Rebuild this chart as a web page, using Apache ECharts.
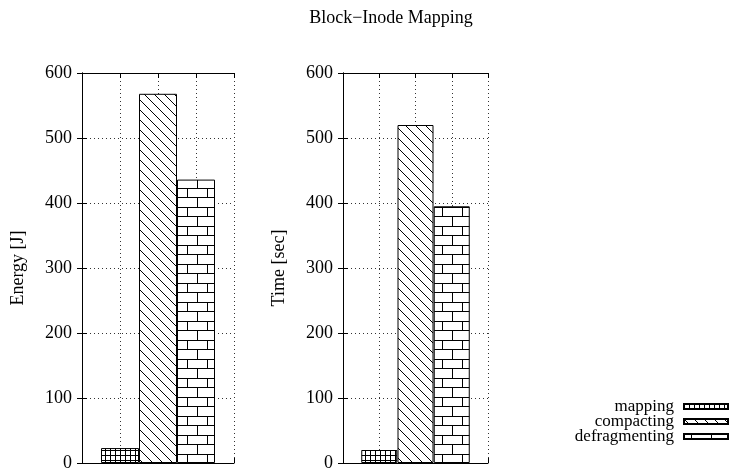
<!DOCTYPE html>
<html>
<head>
<meta charset="utf-8">
<script src="https://cdn.jsdelivr.net/npm/echarts@6/dist/echarts.min.js"></script>
<style>
html,body{margin:0;padding:0;background:#fff;}
#chart{width:731px;height:473px;}
</style>
</head>
<body>
<div id="chart"></div>
<script>
// ---- data ----
const title = 'Block\u2212Inode Mapping';
const categories = ['mapping', 'compacting', 'defragmenting'];
const positions = [1, 2, 3];
const energy = [23, 568, 436];
const time = [20, 520, 395];
const yTicks = [0, 100, 200, 300, 400, 500, 600];
const panelNames = ['Energy [J]', 'Time [sec]'];

// ---- patterns ----
function makeCanvas(w, h) {
  const c = document.createElement('canvas');
  c.width = w; c.height = h;
  const ctx = c.getContext('2d');
  ctx.fillStyle = '#fff';
  ctx.fillRect(0, 0, w, h);
  ctx.strokeStyle = '#000';
  ctx.lineWidth = 1;
  return [c, ctx];
}
function gridPattern() {
  const [c, ctx] = makeCanvas(5, 5);
  ctx.beginPath();
  ctx.moveTo(0.5, 0); ctx.lineTo(0.5, 5);
  ctx.moveTo(0, 0.5); ctx.lineTo(5, 0.5);
  ctx.stroke();
  return { image: c, repeat: 'repeat' };
}
function diagPattern() {
  const [c, ctx] = makeCanvas(10, 10);
  ctx.beginPath();
  ctx.moveTo(-1, -1); ctx.lineTo(11, 11);
  ctx.moveTo(-1, 9); ctx.lineTo(1, 11);
  ctx.moveTo(9, -1); ctx.lineTo(11, 1);
  ctx.stroke();
  return { image: c, repeat: 'repeat' };
}
function brickPattern(xa, xb) {
  const [c, ctx] = makeCanvas(20, 19);
  ctx.beginPath();
  ctx.moveTo(0, 7.5); ctx.lineTo(20, 7.5);
  ctx.moveTo(0, 17.5); ctx.lineTo(20, 17.5);
  ctx.moveTo(xa + 0.5, 7.5); ctx.lineTo(xa + 0.5, 17.5);
  ctx.moveTo(xb + 0.5, 17.5); ctx.lineTo(xb + 0.5, 19);
  ctx.moveTo(xb + 0.5, 0); ctx.lineTo(xb + 0.5, 7.5);
  ctx.stroke();
  return { image: c, repeat: 'repeat' };
}
const fills = [
  [gridPattern(), diagPattern(), brickPattern(17, 7)],
  [gridPattern(), diagPattern(), brickPattern(12, 2)]
];

const FONT = 'Liberation Serif';
const FS = 18;
const grids = [
  { left: 82, top: 73, width: 152, height: 390 },
  { left: 343, top: 73, width: 145, height: 390 }
];
const barWidths = [38, 36];
const panelData = [energy, time];

const dotted = { color: '#333', width: 1, type: [1, 3] };
const xAxes = [], yAxes = [], series = [];
grids.forEach((g, i) => {
  xAxes.push({
    type: 'value', gridIndex: i, min: 0, max: 4, interval: 1, position: 'bottom',
    axisLabel: { show: false },
    axisLine: { show: true, onZero: false, lineStyle: { color: '#000', width: 1 } },
    axisTick: { show: true, inside: true, length: 5, lineStyle: { color: '#000' } },
    splitLine: { show: true, lineStyle: dotted }
  });
  xAxes.push({
    type: 'value', gridIndex: i, min: 0, max: 4, interval: 1, position: 'top',
    axisLabel: { show: false },
    axisLine: { show: true, onZero: false, lineStyle: { color: '#000', width: 1 } },
    axisTick: { show: true, inside: true, length: 5, lineStyle: { color: '#000' } },
    splitLine: { show: false }
  });
  yAxes.push({
    type: 'value', gridIndex: i, min: yTicks[0], max: yTicks[yTicks.length - 1], interval: 100,
    position: 'left',
    name: panelNames[i], nameLocation: 'middle', nameGap: 55,
    nameTextStyle: { fontFamily: FONT, fontSize: FS, color: '#000' },
    axisLabel: { show: true, margin: 10, fontFamily: FONT, fontSize: FS, color: '#000' },
    axisLine: { show: true, lineStyle: { color: '#000', width: 1 } },
    axisTick: { show: true, inside: true, length: 5, lineStyle: { color: '#000' } },
    splitLine: { show: true, lineStyle: dotted }
  });
  yAxes.push({
    type: 'value', gridIndex: i, min: yTicks[0], max: yTicks[yTicks.length - 1], interval: 100,
    position: 'right',
    axisLabel: { show: false },
    axisLine: { show: true, lineStyle: { color: '#000', width: 1 } },
    axisTick: { show: true, inside: true, length: 5, lineStyle: { color: '#000' } },
    splitLine: { show: false }
  });
  categories.forEach((name, k) => {
    series.push({
      type: 'bar', name: name,
      xAxisIndex: i * 2, yAxisIndex: i * 2,
      barWidth: barWidths[i], barGap: '-100%',
      data: [[positions[k], panelData[i][k]]],
      itemStyle: { color: fills[i][k], borderColor: '#000', borderWidth: 1 },
      emphasis: { disabled: true },
      animation: false
    });
  });
});

const chart = echarts.init(document.getElementById('chart'), null, { renderer: 'canvas' });
chart.setOption({
  backgroundColor: '#fff',
  animation: false,
  title: {
    text: title, left: 386, textAlign: 'center', top: 4,
    textStyle: { fontFamily: FONT, fontSize: FS, fontWeight: 'normal', color: '#000' }
  },
  legend: {
    data: categories, orient: 'vertical', right: 2, top: 398, align: 'right', padding: 0,
    icon: 'rect', itemWidth: 44, itemHeight: 5, itemGap: -2,
    textStyle: { fontFamily: FONT, fontSize: 17, color: '#000', lineHeight: 16, padding: [0, 5, 0, 0] },
    selectedMode: false
  },
  grid: grids.map(g => Object.assign({ containLabel: false }, g)),
  xAxis: xAxes,
  yAxis: yAxes,
  series: series
});
</script>
</body>
</html>
